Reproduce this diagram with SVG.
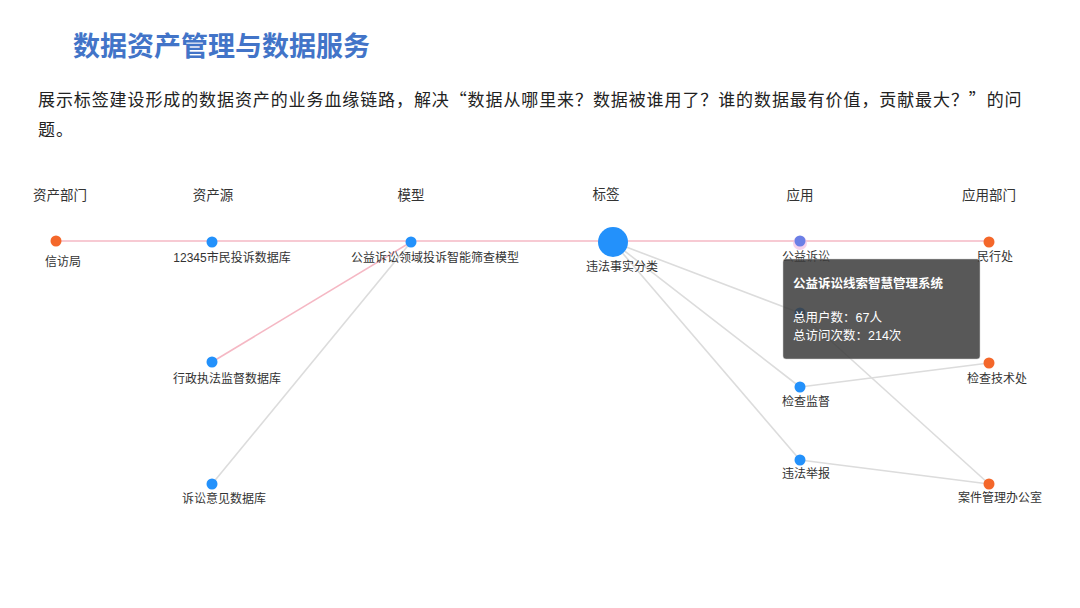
<svg xmlns="http://www.w3.org/2000/svg" width="1080" height="608" viewBox="0 0 1080 608">
<style>
text{font-family:"Liberation Sans","Noto Sans CJK SC",sans-serif;}
.title{font-size:27px;font-weight:bold;fill:#4274c8;}
.para{font-family:"Noto Sans CJK SC",sans-serif;font-size:17px;fill:#222;letter-spacing:0.9px;}
.col{font-size:13.5px;fill:#333;text-anchor:middle;}
.lbl{font-size:12px;fill:#333;text-anchor:middle;}
.pink{stroke:#f5b8c4;stroke-width:1.6;fill:none;}
.gray{stroke:#dcdcdc;stroke-width:1.6;fill:none;}
.blue{fill:#2391fb;}
.orange{fill:#f4672a;}
.tip{font-size:12.5px;fill:#fff;}
</style>
<rect width="1080" height="608" fill="#fff"/>
<text class="title" x="73" y="56">数据资产管理与数据服务</text>
<text class="para" x="38" y="106">展示标签建设形成的数据资产的业务血缘链路，解决“数据从哪里来？数据被谁用了？谁的数据最有价值，贡献最大？”的问</text>
<text class="para" x="38" y="136">题。</text>

<g id="headers">
<text class="col" x="60" y="200">资产部门</text>
<text class="col" x="213" y="200">资产源</text>
<text class="col" x="411" y="200">模型</text>
<text class="col" x="606" y="199">标签</text>
<text class="col" x="800" y="200">应用</text>
<text class="col" x="989" y="200">应用部门</text>
</g>

<g id="connectors">
<line class="pink" x1="56" y1="241" x2="989" y2="241"/>
<line class="pink" x1="212" y1="362" x2="411" y2="242"/>
<line class="gray" x1="212" y1="484" x2="411" y2="242"/>
<line class="gray" x1="613" y1="242" x2="800" y2="313"/>
<line class="gray" x1="613" y1="242" x2="800" y2="387"/>
<line class="gray" x1="613" y1="242" x2="800" y2="460"/>
<line class="gray" x1="800" y1="313" x2="989" y2="484"/>
<line class="gray" x1="800" y1="387" x2="989" y2="363"/>
<line class="gray" x1="800" y1="460" x2="989" y2="484"/>
</g>

<g id="n-xinfangju"><circle class="orange" cx="56" cy="241" r="5.5"/><text class="lbl" x="63" y="266">信访局</text></g>
<g id="n-12345"><circle class="blue" cx="212" cy="242" r="5.5"/><text class="lbl" x="232" y="262">12345市民投诉数据库</text></g>
<g id="n-xingzheng"><circle class="blue" cx="212" cy="362" r="5.5"/><text class="lbl" x="227" y="383">行政执法监督数据库</text></g>
<g id="n-susong"><circle class="blue" cx="212" cy="484" r="5.5"/><text class="lbl" x="224" y="503">诉讼意见数据库</text></g>
<g id="n-model"><circle class="blue" cx="411" cy="242" r="5.5"/><text class="lbl" x="435" y="262">公益诉讼领域投诉智能筛查模型</text></g>
<g id="n-tag"><circle class="blue" cx="613" cy="242" r="15"/><text class="lbl" x="622" y="271">违法事实分类</text></g>
<g id="n-gongyi"><circle cx="800" cy="243" r="7" fill="#f2c6e6" opacity="0.8"/><circle cx="800" cy="241" r="5.5" fill="#6b7fe6"/><text class="lbl" x="806" y="261">公益诉讼</text></g>
<g id="n-hidden"><circle class="blue" cx="800" cy="313" r="5.5"/></g>
<g id="n-jiancha"><circle class="blue" cx="800" cy="387" r="5.5"/><text class="lbl" x="806" y="406">检查监督</text></g>
<g id="n-weifa"><circle class="blue" cx="800" cy="460" r="5.5"/><text class="lbl" x="806" y="478">违法举报</text></g>
<g id="n-minxing"><circle class="orange" cx="989" cy="242" r="5.5"/><text class="lbl" x="995" y="261">民行处</text></g>
<g id="n-jishu"><circle class="orange" cx="989" cy="363" r="5.5"/><text class="lbl" x="997" y="383">检查技术处</text></g>
<g id="n-anjian"><circle class="orange" cx="989" cy="484" r="5.5"/><text class="lbl" x="1000" y="502">案件管理办公室</text></g>

<g id="tooltip">
<rect x="783" y="259" width="197" height="100" rx="3" fill="rgb(60,60,60)" fill-opacity="0.86" stroke="#ccc" stroke-width="0.5"/>
<text class="tip" x="793" y="288" font-weight="bold" font-size="13">公益诉讼线索智慧管理系统</text>
<text class="tip" x="793" y="322">总用户数：67人</text>
<text class="tip" x="793" y="340">总访问次数：214次</text>
</g>
</svg>
